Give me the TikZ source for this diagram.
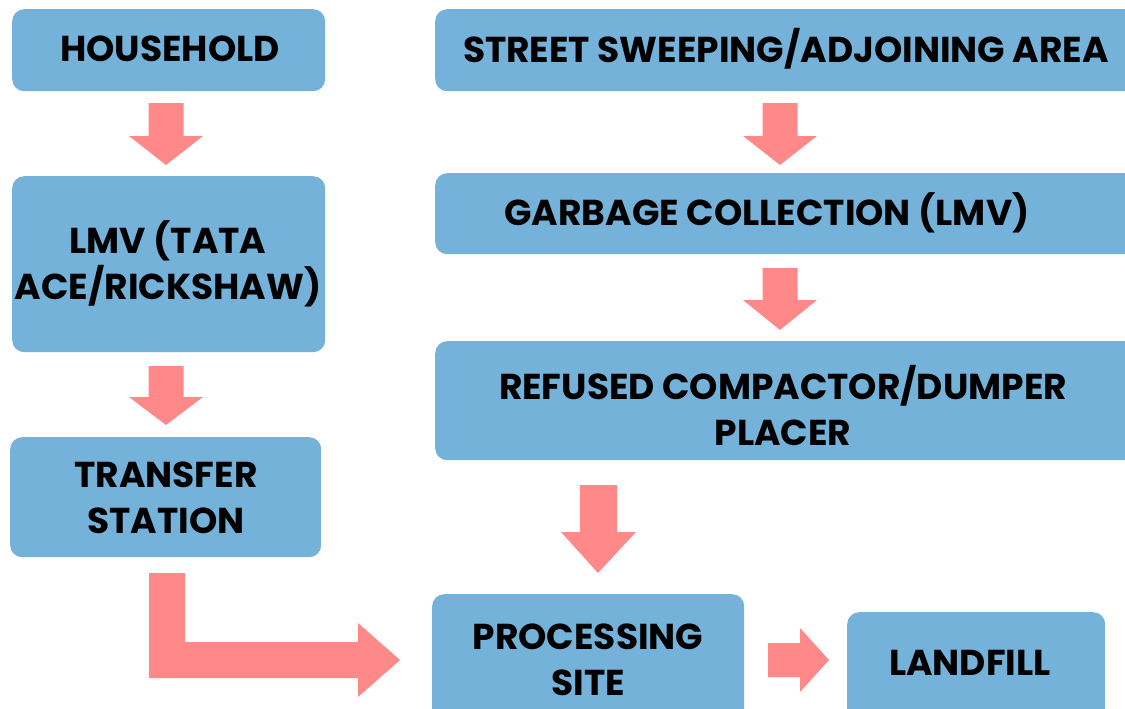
\documentclass[tikz,border=0pt]{standalone}
\usepackage{fontspec}
\setmainfont{Poppins}
\definecolor{boxblue}{RGB}{116,178,218}
\definecolor{arrpink}{RGB}{255,137,137}
\begin{document}
\begin{tikzpicture}[x=1pt,y=-1pt,
  box/.style={fill=boxblue,rounded corners=12pt,inner sep=0pt,anchor=north west},
  lbl/.style={font=\fontsize{36}{46}\selectfont\bfseries,align=center,text=black,inner sep=0pt},
  arr/.style={fill=arrpink}]
\useasboundingbox (0,0) rectangle (1125,709);
\clip (0,0) rectangle (1125,709);
% boxes
\node[box,minimum width=313pt,minimum height=82pt] (hh) at (12,9) {};
\node[box,minimum width=313pt,minimum height=176pt] (lmv) at (12,176) {};
\node[box,minimum width=311pt,minimum height=120pt] (ts) at (10,437) {};
\node[box,minimum width=710pt,minimum height=82pt] (ss) at (435,9) {};
\node[box,minimum width=710pt,minimum height=81pt] (gc) at (435,173) {};
\node[box,minimum width=710pt,minimum height=119pt] (rc) at (435,341) {};
\node[box,minimum width=312pt,minimum height=140pt] (ps) at (432,594) {};
\node[box,minimum width=258pt,minimum height=120pt] (lf) at (847,612) {};
% labels
\node[lbl] (thh) at (170,49) {HOUSEHOLD};
\node[lbl] (tlmv) at (168,264) {LMV (TATA\\ACE/RICKSHAW)};
\node[lbl] (tts) at (166,498) {TRANSFER\\STATION};
\node[lbl] (tss) at (786,49) {STREET SWEEPING/ADJOINING AREA};
\node[lbl] (tgc) at (767,213) {GARBAGE COLLECTION (LMV)};
\node[lbl] (trc) at (783,405) {REFUSED COMPACTOR/DUMPER\\PLACER};
\node[lbl] (tps) at (588,660) {PROCESSING\\SITE};
\node[lbl] (tlf) at (970,663) {LANDFILL};
% arrows
\fill[arr] (148.5,103) -- (183.5,103) -- (183.5,136) -- (203,136) -- (166,165) -- (129,136) -- (148.5,136) -- cycle;
\fill[arr] (148.5,366) -- (183.5,366) -- (183.5,397) -- (203,397) -- (166,425) -- (129,397) -- (148.5,397) -- cycle;
\fill[arr] (762.5,103) -- (797.5,103) -- (797.5,136) -- (817,136) -- (780,165) -- (743,136) -- (762.5,136) -- cycle;
\fill[arr] (762.5,268) -- (797.5,268) -- (797.5,300) -- (817,300) -- (780,330) -- (743,300) -- (762.5,300) -- cycle;
\fill[arr] (580,485) -- (617,485) -- (617,532) -- (636,532) -- (598,573) -- (561,532) -- (580,532) -- cycle;
\fill[arr] (149,573) -- (185,573) -- (185,642) -- (358,642) -- (358,623) -- (400,660) -- (358,697) -- (358,678) -- (149,678) -- cycle;
\fill[arr] (768,643) -- (800,643) -- (800,628) -- (829,660) -- (800,692) -- (800,677) -- (768,677) -- cycle;
\end{tikzpicture}
\end{document}
